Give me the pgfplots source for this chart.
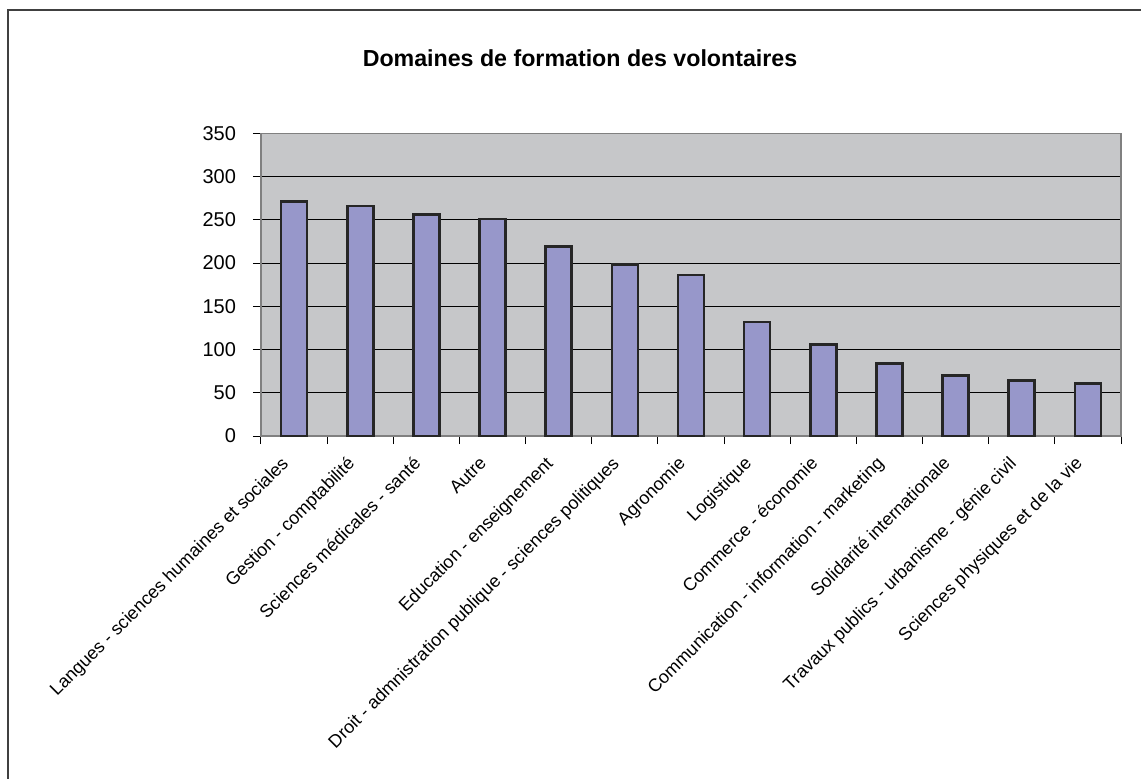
\documentclass[border=0pt]{standalone}
\usepackage{pgfplots}
\pgfplotsset{compat=1.18}
\usepackage{fontspec}
\setmainfont{Liberation Sans}
\definecolor{plotbg}{HTML}{C6C7C9}
\definecolor{barfill}{HTML}{9797CA}
\definecolor{framegray}{HTML}{404040}
\begin{document}
\begin{tikzpicture}
\useasboundingbox (-130.5pt,-171pt) rectangle (440pt,218pt);
\draw[framegray, line width=0.8pt] (-126.5pt,-180pt) -- (-126.5pt,213pt) -- (450pt,213pt);
\node[font=\fontsize{11.6}{14}\selectfont\bfseries] at (159.5pt,189pt) {Domaines de formation des volontaires};
\begin{axis}[
 scale only axis, width=430pt, height=151.35pt,
 xmin=-0.5, xmax=12.5, ymin=0, ymax=350,
 axis background/.style={fill=plotbg},
 axis line style={draw=gray, line width=0.8pt},
 ybar, bar width=13pt,
 ytick={0,50,...,350},
 xtick={-0.5,0.5,...,12.5},
 x tick label as interval,
 xticklabels={Langues - sciences humaines et sociales, Gestion - comptabilité, Sciences médicales - santé, Autre, Education - enseignement, Droit - admnistration publique - sciences politiques, Agronomie, Logistique, Commerce - économie, Communication - information - marketing, Solidarité internationale, Travaux publics - urbanisme - génie civil, Sciences physiques et de la vie},
 ymajorgrids, grid style={black, line width=0.5pt},
 tick align=outside, major tick length=4pt,
 tick style={black, line width=0.5pt},
 xtick pos=left, ytick pos=left,
 ticklabel style={font=\fontsize{10}{12}\selectfont},
 yticklabel style={xshift=-5pt},
 /pgf/number format/assume math mode=true,
 xticklabel style={font=\fontsize{9}{11}\selectfont, xshift=-7pt, yshift=-4pt, rotate=45, anchor=north east, inner sep=1pt},
]
\addplot[fill=barfill, draw=black!85, line width=1.3pt] coordinates {
(0,271) (1,266) (2,256) (3,251) (4,219) (5,198) (6,186) (7,132) (8,106) (9,84) (10,70) (11,64) (12,61)};
\end{axis}
\end{tikzpicture}
\end{document}
